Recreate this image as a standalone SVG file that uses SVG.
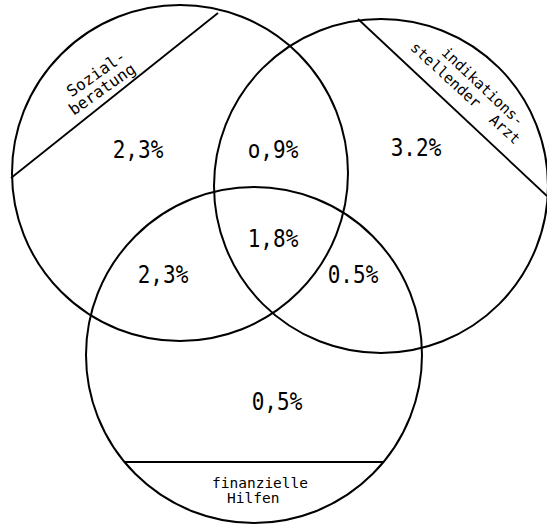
<svg xmlns="http://www.w3.org/2000/svg" width="547" height="526" viewBox="0 0 547 526">
<style>
.c{fill:none;stroke:#000;stroke-width:2}
.ch{fill:none;stroke:#000;stroke-width:1.8}
.p{font-family:"DejaVu Sans Mono","Liberation Mono",monospace;font-size:21px;text-anchor:middle;fill:#000}
.l{font-family:"DejaVu Sans Mono","Liberation Mono",monospace;font-size:15px;fill:#000}
.m{text-anchor:middle}
</style>
<rect width="547" height="526" fill="#fff"/>
<g id="sozialberatung">
<circle class="c" cx="180" cy="173" r="168"/>
<line class="ch" x1="218" y1="13" x2="11" y2="178"/>
<text class="l m" transform="translate(96,73.5) rotate(-35)" dy="0.35em" style="font-size:16px">Sozial-</text>
<text class="l m" transform="translate(102,89) rotate(-35)" dy="0.35em" style="font-size:16px">beratung</text>
</g>
<g id="arzt">
<circle class="c" cx="381" cy="186" r="167"/>
<line class="ch" x1="358" y1="19" x2="547" y2="196"/>
<text class="l m" transform="translate(483,86.5) rotate(43.5)" dy="0.35em" style="font-size:14.8px">indikations-</text>
<text class="l m" transform="translate(465.5,93) rotate(42.5)" dy="0.35em" style="font-size:14.8px">stellender <tspan dx="8.9">Arzt</tspan></text>
</g>
<g id="hilfen">
<circle class="c" cx="254" cy="355" r="168"/>
<line class="ch" x1="124" y1="462" x2="384" y2="462"/>
<text class="l" x="212" y="488" style="font-size:14.5px">finanzielle</text>
<text class="l" x="227" y="503" style="font-size:14.5px">Hilfen</text>
</g>
<g id="values">
<text class="p" transform="translate(138,158) scale(1,1.15)">2,3%</text>
<text class="p" transform="translate(273,158) scale(1,1.15)">o,9%</text>
<text class="p" transform="translate(416,156) scale(1,1.15)">3.2%</text>
<text class="p" transform="translate(273,247) scale(1,1.15)">1,8%</text>
<text class="p" transform="translate(163,283) scale(1,1.15)">2,3%</text>
<text class="p" transform="translate(353,283) scale(1,1.15)">0.5%</text>
<text class="p" transform="translate(277,410) scale(1,1.15)">0,5%</text>
</g>
</svg>
